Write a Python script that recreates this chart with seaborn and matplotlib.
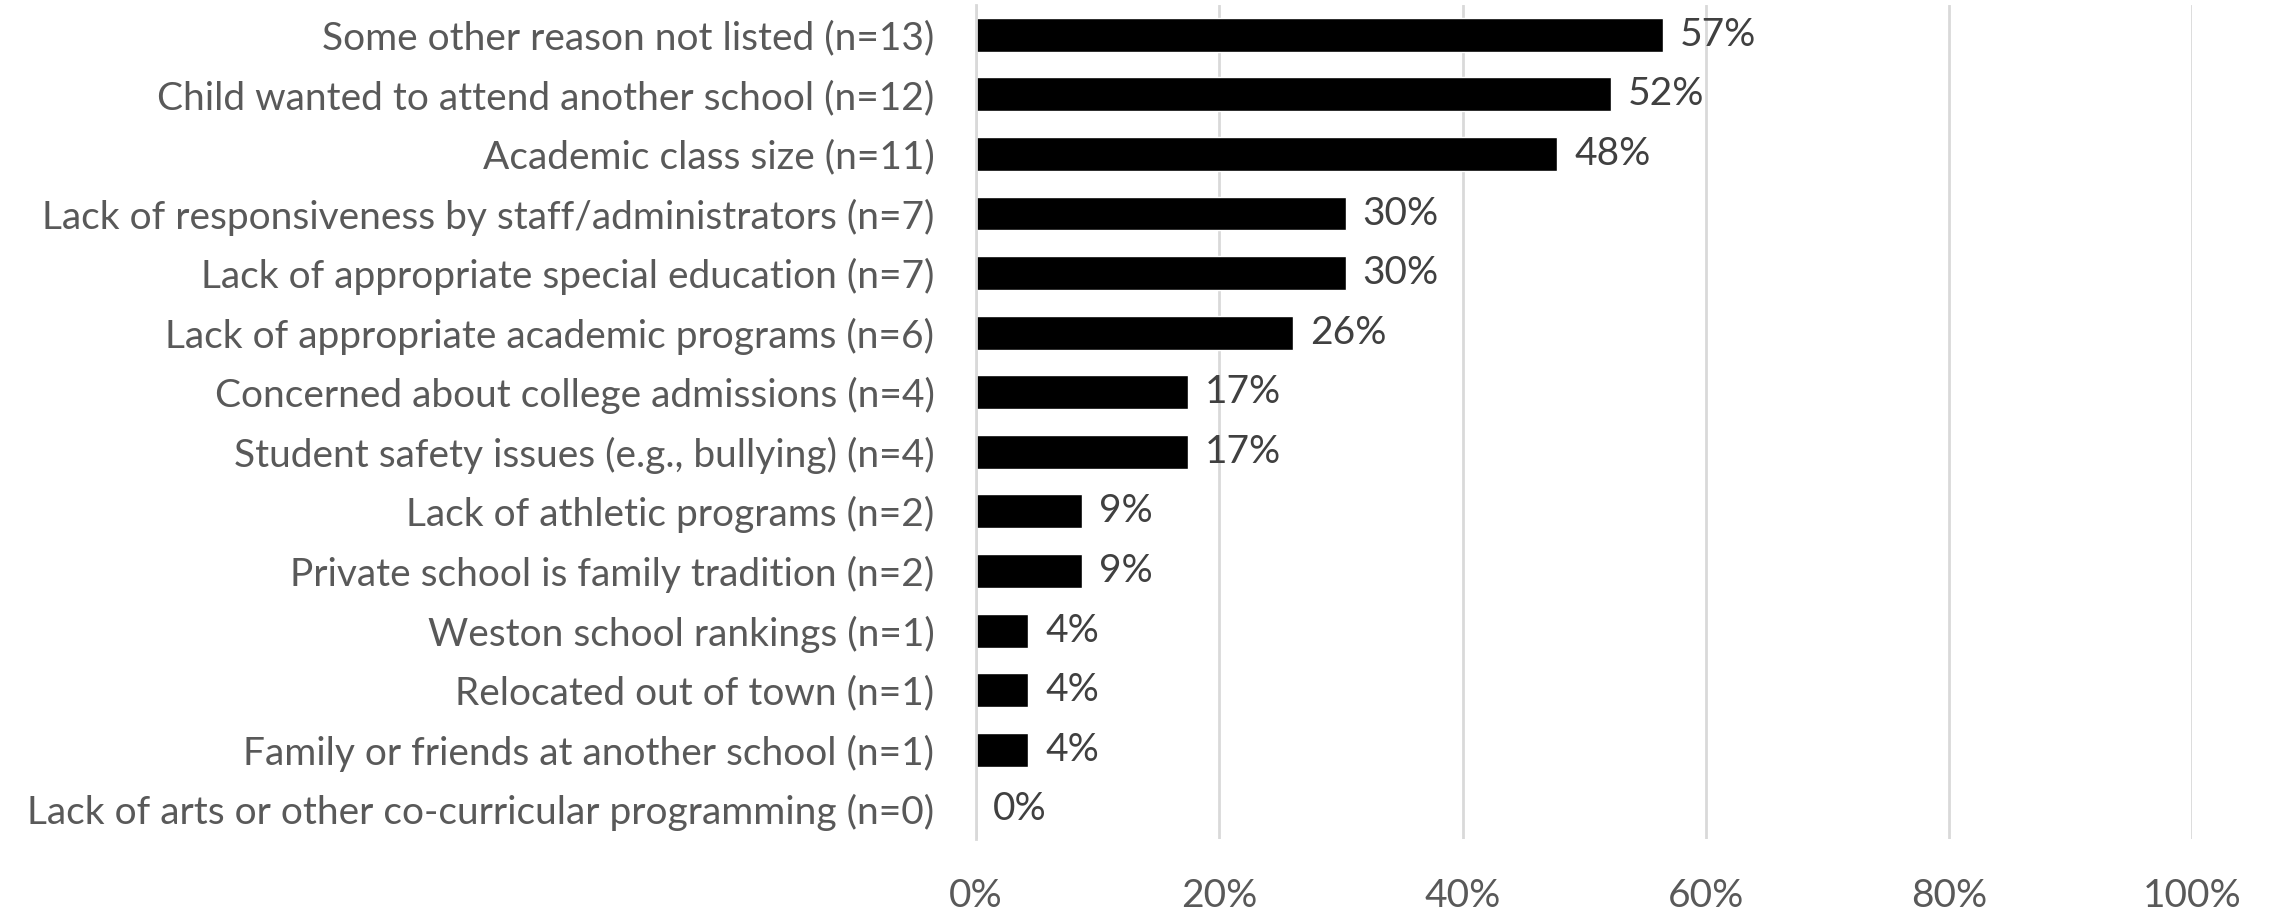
import pandas as pd
import matplotlib
matplotlib.use("Agg")
import matplotlib.pyplot as plt
import seaborn as sns

# reasons for leaving, share of respondents (%)
reasons = [
    "Some other reason not listed (n=13)",
    "Child wanted to attend another school (n=12)",
    "Academic class size (n=11)",
    "Lack of responsiveness by staff/administrators (n=7)",
    "Lack of appropriate special education (n=7)",
    "Lack of appropriate academic programs (n=6)",
    "Concerned about college admissions (n=4)",
    "Student safety issues (e.g., bullying) (n=4)",
    "Lack of athletic programs (n=2)",
    "Private school is family tradition (n=2)",
    "Weston school rankings (n=1)",
    "Relocated out of town (n=1)",
    "Family or friends at another school (n=1)",
    "Lack of arts or other co-curricular programming (n=0)",
]
pct = [56.5, 52.2, 47.8, 30.4, 30.4, 26.1, 17.4, 17.4, 8.7, 8.7, 4.3, 4.3, 4.3, 0.0]
pct_labels = ["57%", "52%", "48%", "30%", "30%", "26%", "17%", "17%",
              "9%", "9%", "4%", "4%", "4%", "0%"]
xticks = [0, 20, 40, 60, 80, 100]

df = pd.DataFrame({"Reason": reasons, "Pct": pct})

sns.set_style("white")
plt.rcParams["font.family"] = ["Lato", "DejaVu Sans"]

fig = plt.figure(figsize=(22.7, 9.11), dpi=100)
ax = fig.add_axes([0.43, 0.079, 0.5357, 0.9155])

sns.barplot(data=df, x="Pct", y="Reason", orient="h", color="black",
            width=0.57, saturation=1, ax=ax)

ax.set_xlim(0, 100)
ax.set_ylim(13.5, -0.5)
ax.set_xticks(xticks)
ax.set_xticklabels([f"{t}%" for t in xticks])
ax.xaxis.grid(True, color="#d9d9d9", linewidth=2)
ax.set_axisbelow(True)
for s in ["top", "right", "bottom"]:
    ax.spines[s].set_visible(False)
ax.spines["left"].set_color("#d9d9d9")
ax.spines["left"].set_linewidth(2)
ax.set_xlabel("")
ax.set_ylabel("")
ax.tick_params(axis="y", length=0, pad=30, labelsize=28, labelcolor="#595959")
ax.tick_params(axis="x", length=0, pad=28, labelsize=28, labelcolor="#595959")

ax.bar_label(ax.containers[0], labels=pct_labels,
             padding=12, fontsize=28, color="#404040")

fig.savefig("out.png", dpi=100)
